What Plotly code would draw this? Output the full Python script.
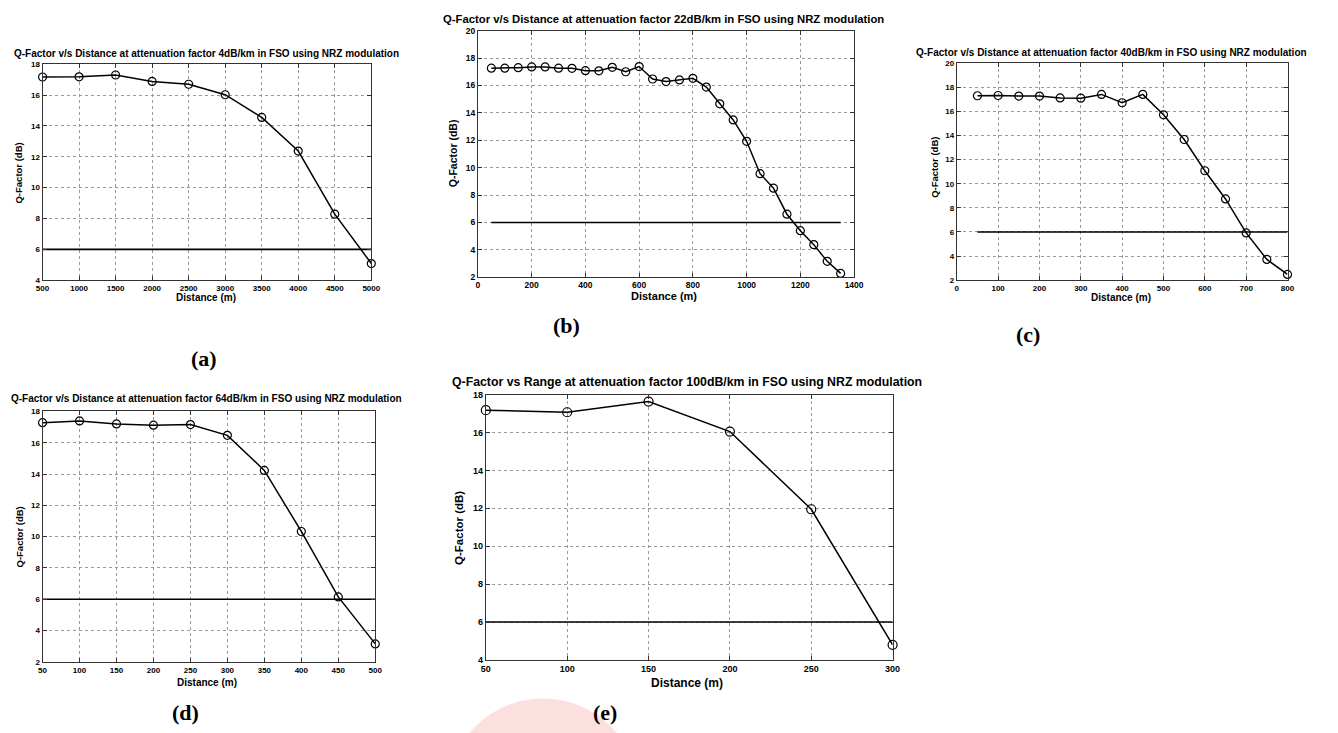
import plotly.graph_objects as go

W, H = 1338, 733

# ---- data ----
dist_a = [500, 1000, 1500, 2000, 2500, 3000, 3500, 4000, 4500, 5000]
q_a = [17.17, 17.18, 17.3, 16.88, 16.7, 16.02, 14.55, 12.37, 8.28, 5.08]

dist_b = [50, 100, 150, 200, 250, 300, 350, 400, 450, 500, 550, 600, 650, 700,
          750, 800, 850, 900, 950, 1000, 1050, 1100, 1150, 1200, 1250, 1300, 1350]
q_b = [17.26, 17.26, 17.3, 17.35, 17.35, 17.26, 17.25, 17.08, 17.07, 17.32, 17.0,
       17.38, 16.47, 16.28, 16.4, 16.52, 15.88, 14.66, 13.48, 11.92, 9.56, 8.5,
       6.6, 5.4, 4.38, 3.16, 2.28]

dist_c = [50, 100, 150, 200, 250, 300, 350, 400, 450, 500, 550, 600, 650, 700, 750, 800]
q_c = [17.3, 17.32, 17.27, 17.27, 17.12, 17.1, 17.41, 16.72, 17.41, 15.72, 13.67,
       11.08, 8.74, 5.92, 3.72, 2.48]

dist_d = [50, 100, 150, 200, 250, 300, 350, 400, 450, 500]
q_d = [17.28, 17.39, 17.2, 17.12, 17.16, 16.47, 14.23, 10.33, 6.15, 3.15]

dist_e = [50, 100, 150, 200, 250, 300]
q_e = [17.18, 17.07, 17.63, 16.05, 11.95, 4.8]

threshold_db = 6

titles = [
    "Q-Factor v/s Distance at attenuation factor 4dB/km in FSO using NRZ modulation",
    "Q-Factor v/s Distance at attenuation factor 22dB/km in FSO using NRZ modulation",
    "Q-Factor v/s Distance at attenuation factor 40dB/km in FSO using NRZ modulation",
    "Q-Factor v/s Distance at attenuation factor 64dB/km in FSO using NRZ modulation",
    "Q-Factor vs Range at attenuation factor 100dB/km in FSO using NRZ modulation",
]
panel_labels = ["(a)", "(b)", "(c)", "(d)", "(e)"]

# ---- layout geometry (pixels) ----
panels = [
    dict(x=dist_a, y=q_a, box=(36, 369, 60, 279), xr=[500, 5000], xd=500, yr=[4, 18],
         title_xy=(202, 49), tfs=10, lab_xy=(200, 358), xt_xy=(202, 297), yt_xy=(12, 170),
         afs=10, tkfs=8, ms=8),
    dict(x=dist_b, y=q_b, box=(477, 858, 26, 276), xr=[0, 1400], xd=200, yr=[2, 20],
         title_xy=(665, 14), tfs=11.3, lab_xy=(567, 325), xt_xy=(665, 295), yt_xy=(452, 150),
         afs=11, tkfs=8.5, ms=8),
    dict(x=dist_c, y=q_c, box=(962, 1297, 59, 279), xr=[0, 800], xd=100, yr=[2, 20],
         title_xy=(1119, 48), tfs=10, lab_xy=(1034, 334), xt_xy=(1128, 297), yt_xy=(940, 165),
         afs=10, tkfs=8, ms=8),
    dict(x=dist_d, y=q_d, box=(36, 373, 412, 666), xr=[50, 500], xd=50, yr=[2, 18],
         title_xy=(202, 399), tfs=10, lab_xy=(181, 717), xt_xy=(203, 687), yt_xy=(13, 539),
         afs=10, tkfs=8, ms=8),
    dict(x=dist_e, y=q_e, box=(485, 897, 395, 664), xr=[50, 300], xd=50, yr=[4, 18],
         title_xy=(689, 382), tfs=12.3, lab_xy=(606, 717), xt_xy=(689, 687), yt_xy=(458, 530),
         afs=12, tkfs=9, ms=9),
]

fig = go.Figure()
annotations = []
layout_axes = {}
FONT = "Liberation Sans, Arial, sans-serif"


def ann(text, px, py, size, family=FONT, angle=0):
    return dict(text=text, x=px / W, y=1 - py / H, xref="paper", yref="paper",
                xanchor="center", yanchor="middle", showarrow=False, textangle=angle,
                font=dict(family=family, size=size, color="black"))


for i, p in enumerate(panels):
    n = "" if i == 0 else str(i + 1)
    xa, ya = "x" + n, "y" + n
    x0, x1, y0, y1 = p["box"]
    fig.add_trace(go.Scatter(
        x=[p["x"][0], p["x"][-1]], y=[threshold_db, threshold_db], mode="lines",
        line=dict(color="black", width=1.6), xaxis=xa, yaxis=ya, showlegend=False,
        hoverinfo="skip"))
    fig.add_trace(go.Scatter(
        x=p["x"], y=p["y"], mode="lines+markers",
        line=dict(color="black", width=1.5),
        marker=dict(symbol="circle-open", size=p["ms"], color="black", line=dict(width=1.2)),
        xaxis=xa, yaxis=ya, showlegend=False, cliponaxis=False))
    common = dict(showline=True, linecolor="#333", linewidth=1, mirror="ticks",
                  ticks="inside", ticklen=4, tickcolor="#333", showgrid=True,
                  gridcolor="#999", griddash="dot", gridwidth=1, zeroline=False,
                  tickfont=dict(family=FONT, size=p["tkfs"], color="black", weight="bold"))
    layout_axes["xaxis" + n] = dict(common, domain=[x0 / W, x1 / W], range=p["xr"],
                                    dtick=p["xd"], tick0=0, anchor=ya)
    layout_axes["yaxis" + n] = dict(common, domain=[1 - y1 / H, 1 - y0 / H], range=p["yr"],
                                    dtick=2, tick0=0, anchor=xa)
    annotations.append(ann("<b>" + titles[i] + "</b>", *p["title_xy"], p["tfs"]))
    annotations.append(ann("<b>" + panel_labels[i] + "</b>", *p["lab_xy"], 22,
                           family="Liberation Serif, Times New Roman, serif"))
    annotations.append(ann("<b>Distance (m)</b>", *p["xt_xy"], p["afs"]))
    annotations.append(ann("<b>Q-Factor (dB)</b>", *p["yt_xy"], p["afs"] - 0.5, angle=-90))

# faint watermark circle near panel (e)
shapes = [dict(type="circle", xref="paper", yref="paper", layer="below",
               x0=(543 - 97) / W, x1=(543 + 97) / W, y0=1 - (800 + 97) / H,
               y1=1 - (800 - 97) / H, fillcolor="rgba(245,150,150,0.3)", line=dict(width=0))]

fig.update_layout(width=W, height=H, margin=dict(l=0, r=0, t=0, b=0),
                  paper_bgcolor="white", plot_bgcolor="white",
                  annotations=annotations, shapes=shapes, **layout_axes)

fig.write_html("out.html")
